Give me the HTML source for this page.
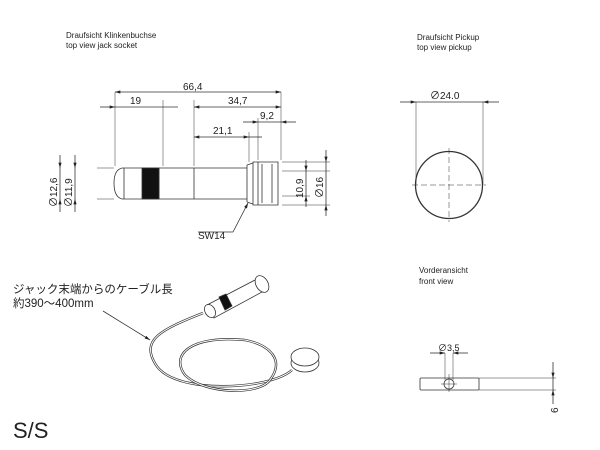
<!DOCTYPE html>
<html><head><meta charset="utf-8"><style>
body{margin:0;background:#fff}
svg{display:block}
text{font-family:"Liberation Sans","Noto Sans CJK JP",sans-serif;fill:#222}
</style></head><body>
<svg width="600" height="450" viewBox="0 0 600 450" xmlns="http://www.w3.org/2000/svg">
<defs><marker id="a" viewBox="0 0 10 6" refX="10" refY="3" markerWidth="7" markerHeight="4" orient="auto-start-reverse"><path d="M0,0L10,3L0,6z" fill="#222"/></marker></defs>
<text x="66" y="38" font-size="8">Draufsicht Klinkenbuchse</text>
<text x="66" y="48" font-size="8">top view jack socket</text>
<text x="417" y="40" font-size="8">Draufsicht Pickup</text>
<text x="417" y="50" font-size="8">top view pickup</text>
<text x="419" y="273" font-size="8">Vorderansicht</text>
<text x="419" y="284" font-size="8">front view</text>
<g stroke="#333" stroke-width="0.8" fill="none">
<!-- jack body -->
<path d="M122,168 L247,168 M122,199 L247,199"/>
<path d="M122,168 Q114,170 114,183 Q114,197 122,199"/>
<path d="M124,168 V199 M159,168 V199 M194,168 V199 M247,165 V202"/>
<rect x="142" y="168" width="17" height="31" fill="#111"/>
<path d="M253,162 H278 V205 H253 Z M258,162 V205 M262,164 V203 M272,164 V203"/>
<path d="M247,165 L253,163 M247,202 L253,204"/>
<path d="M97,168 H114 M97,199 H114 M282,171 H330 M282,196 H310 M282,162 H330 M282,205 H330" stroke-width="0.5"/>
<path d="M115,92 V166 M281,92 V160 M163,100 V166 M194,100 V166 M258,118 V160 M249,132 V162" stroke-width="0.5"/>
<path d="M115,92 H281" marker-start="url(#a)" marker-end="url(#a)"/>
<path d="M100,107 H115" marker-end="url(#a)"/><path d="M115,107 H163 H178"/>
<path d="M194,107 H281" marker-start="url(#a)" marker-end="url(#a)"/>
<path d="M243,122 H258" marker-end="url(#a)"/><path d="M281,122 H296" marker-start="url(#a)"/><path d="M258,122 H281"/>
<path d="M194,137 H249" marker-start="url(#a)" marker-end="url(#a)"/><path d="M249,137 H262"/>
<path d="M60,155 V168" marker-end="url(#a)"/><path d="M60,212 V199" marker-end="url(#a)"/><path d="M60,168 V199"/>
<path d="M75,155 V168" marker-end="url(#a)"/><path d="M75,212 V199" marker-end="url(#a)"/><path d="M75,168 V199"/>
<path d="M306,160 V171" marker-end="url(#a)"/><path d="M306,207 V196" marker-end="url(#a)"/><path d="M306,171 V196"/>
<path d="M326,150 V162" marker-end="url(#a)"/><path d="M326,216 V205" marker-end="url(#a)"/><path d="M326,162 V205"/>
<path d="M233,232 L248,203" marker-end="url(#a)"/><path d="M198,232 H233"/>
<!-- pickup -->
<circle cx="449" cy="185" r="33.5" stroke-width="1.3"/>
<path d="M449,148 V222 M412,185 H486" stroke-dasharray="6,3" stroke-width="0.5"/>
<path d="M416,102 V185 M483,102 V185" stroke-width="0.5"/>
<path d="M400,102 H416" marker-end="url(#a)"/><path d="M499,102 H483" marker-end="url(#a)"/><path d="M416,102 H483"/>
<!-- front view -->
<rect x="420" y="378" width="59" height="12" rx="1"/>
<circle cx="449" cy="384" r="5"/>
<path d="M441,384 H457 M449,374 V392" stroke-width="0.5"/>
<path d="M445,353 V380 M453,353 V380 M479,378 H556 M479,390 H556" stroke-width="0.5"/>
<path d="M430,353 H445" marker-end="url(#a)"/><path d="M468,353 H453" marker-end="url(#a)"/>
<path d="M553,362 V378" marker-end="url(#a)"/><path d="M553,404 V390" marker-end="url(#a)"/><path d="M553,378 V390"/>
<!-- cable illustration -->
<path d="M103,311 L150,340" marker-end="url(#a)"/>
<path d="M203,313 C160,330 140,340 156,365 C175,395 270,390 292,370" stroke-width="2.4"/>
<path d="M203,313 C160,330 140,340 156,365 C175,395 270,390 292,370" stroke="#fff" stroke-width="1"/>
<path d="M245,340 C190,335 170,355 185,375 C205,395 260,395 270,380 C285,360 270,345 245,340" stroke-width="2.4"/>
<path d="M245,340 C190,335 170,355 185,375 C205,395 260,395 270,380 C285,360 270,345 245,340" stroke="#fff" stroke-width="1"/>
<g fill="#fff">
<path d="M207,305 L255,280 L262,292 L214,318 Z"/>
<path d="M219,297 L226,294 L232,306 L225,310 Z" fill="#111"/>
<ellipse cx="262" cy="284" rx="6" ry="9" transform="rotate(-30 262 284)"/>
<ellipse cx="210" cy="311" rx="5" ry="7" transform="rotate(-30 210 311)"/>
<path d="M290,352 h28 v8 h-28z" stroke="none"/>
<ellipse cx="305" cy="363" rx="14" ry="9"/>
<ellipse cx="305" cy="357" rx="14" ry="9"/>
</g>
</g>
<text x="183" y="90" font-size="10">66,4</text>
<text x="130" y="104" font-size="10">19</text>
<text x="228" y="104" font-size="10">34,7</text>
<text x="260" y="119" font-size="10">9,2</text>
<text x="213" y="134" font-size="10">21,1</text>
<text x="198" y="239" font-size="10">SW14</text>
<text x="430" y="99" font-size="10">∅24.0</text>
<text x="438" y="351" font-size="9">∅3,5</text>
<text font-size="10" transform="translate(57,207) rotate(-90)">∅12,6</text>
<text font-size="10" transform="translate(72,207) rotate(-90)">∅11,9</text>
<text font-size="10" transform="translate(303,198) rotate(-90)">10,9</text>
<text font-size="10" transform="translate(323,198) rotate(-90)">∅16</text>
<text font-size="10" transform="translate(558,413) rotate(-90)">6</text>
<text x="13" y="293" font-size="11.5">ジャック末端からのケーブル長</text>
<text x="13" y="307" font-size="11.5">約390～400mm</text>
<text x="13" y="438" font-size="22">S/S</text>
</svg>
</body></html>
